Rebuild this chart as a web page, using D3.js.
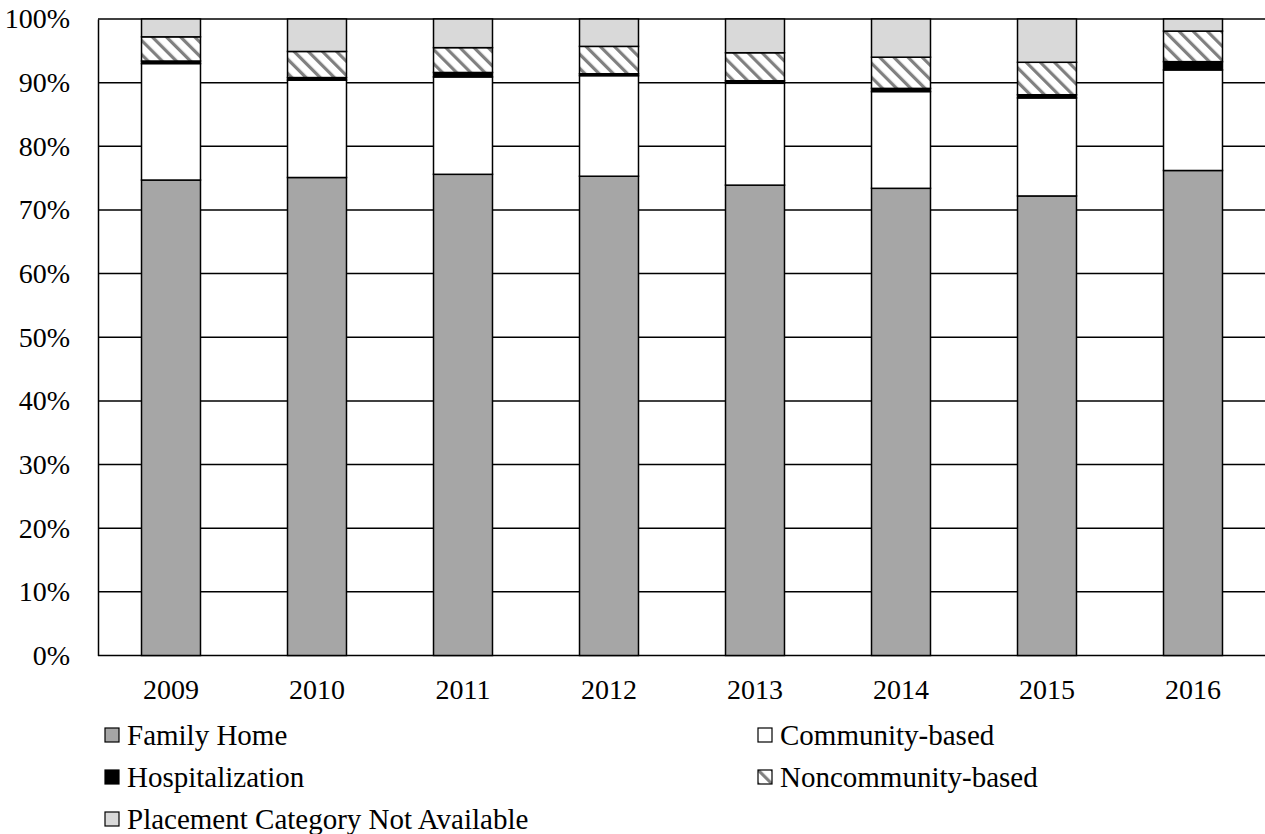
<!DOCTYPE html>
<html><head><meta charset="utf-8">
<script src="https://cdn.jsdelivr.net/npm/d3@7"></script>
<style>body{margin:0;background:#fff}svg{display:block}svg text{font-family:"Liberation Serif",serif !important;fill:#000}</style>
</head><body><svg id="c" width="1265" height="834"></svg>
<script>
const years = ["2009","2010","2011","2012","2013","2014","2015","2016"];
const familyHome = [74.7,75.1,75.6,75.3,73.9,73.4,72.2,76.2];
const communityBased = [18.3,15.3,15.3,15.8,16.0,15.2,15.4,15.8];
const hospitalization = [0.4,0.4,0.7,0.3,0.4,0.5,0.5,1.3];
const noncommunityBased = [3.8,4.1,3.9,4.3,4.4,4.9,5.1,4.8];
const notAvailable = [2.8,5.1,4.5,4.3,5.3,6.0,6.8,1.9];
const yTicks = [0,10,20,30,40,50,60,70,80,90,100];
const seriesNames = ["Family Home","Community-based","Hospitalization","Noncommunity-based","Placement Category Not Available"];
const seriesData = [familyHome,communityBased,hospitalization,noncommunityBased,notAvailable];
const fills = ["#a6a6a6","#ffffff","#000000","url(#hatch)","#d9d9d9"];

const svg = d3.select("#c");
const defs = svg.append("defs");
const pat = defs.append("pattern").attr("id","hatch").attr("patternUnits","userSpaceOnUse")
  .attr("width",10).attr("height",10).attr("patternTransform","rotate(-45)");
pat.append("rect").attr("width",10).attr("height",10).attr("fill","#fff");
pat.append("rect").attr("x",0).attr("y",0).attr("width",3.2).attr("height",10).attr("fill","#808080");

const L=98, R=1266, T=19, B=655.5;
const x = d3.scaleBand().domain(years).range([L,R]).paddingInner(0.596).paddingOuter(0.298);
const y = d3.scaleLinear().domain([0,100]).range([B,T]);

svg.append("g").selectAll("line").data(yTicks).join("line")
  .attr("x1",L).attr("x2",R).attr("y1",d=>y(d)).attr("y2",d=>y(d))
  .attr("stroke","#000").attr("stroke-width",1.5);

const rows = years.map((yr,i)=>{const o={year:yr}; seriesNames.forEach((s,k)=>o[s]=seriesData[k][i]); return o;});
const stack = d3.stack().keys(seriesNames)(rows);
stack.forEach((layer,k)=>{
  svg.append("g").selectAll("rect").data(layer).join("rect")
    .attr("x",d=>x(d.data.year)).attr("width",x.bandwidth())
    .attr("y",d=>y(d[1])).attr("height",d=>y(d[0])-y(d[1]))
    .attr("fill",fills[k]).attr("stroke","#000").attr("stroke-width",1.5);
});

const ya = svg.append("g").attr("transform",`translate(${L},0)`)
  .attr("font-family","Liberation Serif")
  .call(d3.axisLeft(y).tickValues(yTicks).tickFormat(d=>d+"%").tickSize(0).tickPadding(28));
ya.attr("font-family","Liberation Serif");
ya.select(".domain").attr("stroke","#000").attr("stroke-width",1.5);
ya.selectAll("text").style("font-size","28px");

const xa = svg.append("g").attr("transform",`translate(0,${B})`)
  .call(d3.axisBottom(x).tickSize(0).tickPadding(24));
xa.attr("font-family","Liberation Serif");
xa.select(".domain").remove();
xa.selectAll("text").style("font-size","28px");

const legPos = [[105,735],[758,735],[105,777],[758,777],[105,819]];
const lg = svg.append("g").attr("font-family","Liberation Serif");
seriesNames.forEach((s,k)=>{
  const [lx,ly]=legPos[k];
  lg.append("rect").attr("x",lx).attr("y",ly-7).attr("width",14).attr("height",14)
    .attr("fill",fills[k]).attr("stroke","#000").attr("stroke-width",1.2);
  lg.append("text").attr("x",lx+22).attr("y",ly).attr("dy","0.33em")
    .style("font-size","29px").text(s);
});
</script></body></html>
